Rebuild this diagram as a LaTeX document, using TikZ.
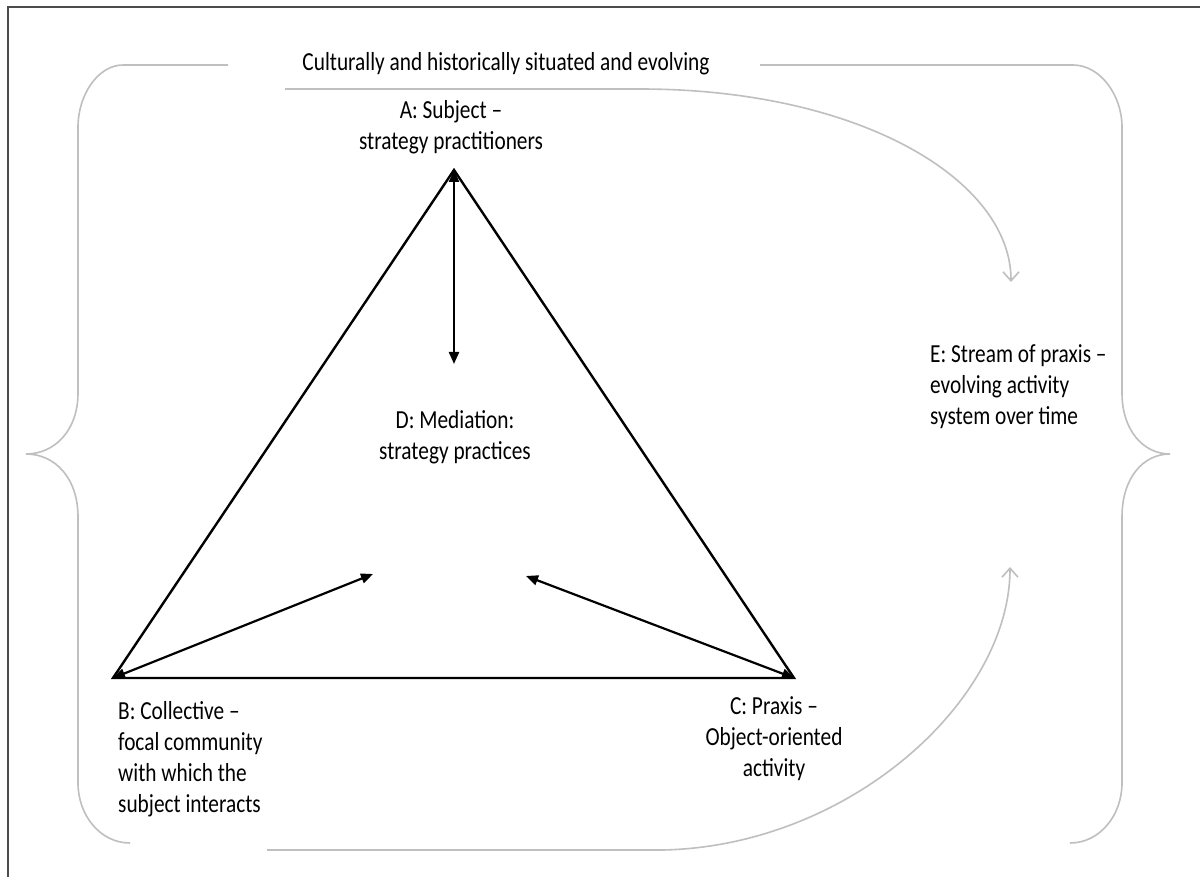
\documentclass[tikz,border=0pt]{standalone}
\usepackage{fontspec}
\setmainfont{Carlito}
\newfontfamily\labfont[FakeStretch=0.82]{Carlito}
\usetikzlibrary{arrows.meta}
\begin{document}
\begin{tikzpicture}[x=1pt,y=-1pt,
 tri/.style={line width=2.4pt, black, line join=miter},
 dbl/.style={line width=2.2pt, black, {Triangle[length=12pt,width=10pt]}-{Triangle[length=12pt,width=10pt]}},
 gr/.style={line width=1.6pt, color=black!25},
 garrow/.style={gr, -{Straight Barb[length=9pt,width=16pt]}},
 lbl/.style={font=\labfont\fontsize{26}{31}\selectfont, inner sep=0pt, text=black},
]
\useasboundingbox (0,0) rectangle (1200,877);
\fill[white] (0,0) rectangle (1200,877);
\draw[line width=2pt, black!70] (8,877) -- (8,7) -- (1200,7);

% labels
\node[lbl] (title) at (506,64) {Culturally and historically situated and evolving};
\node[lbl, align=center] (lA) at (451,127) {A: Subject –\\strategy practitioners};
\node[lbl, align=center] (lD) at (455,437) {D: Mediation:\\strategy practices};
\node[lbl, align=left, anchor=west] (lB) at (118,759) {B: Collective –\\focal community\\with which the\\subject interacts};
\node[lbl, align=center] (lC) at (774,739) {C: Praxis –\\Object-oriented\\activity};
\node[lbl, align=left, anchor=west] (lE) at (930,387) {E: Stream of praxis –\\evolving activity\\system over time};

% gray braces
\draw[gr] (228,65) -- (123,65) .. controls (98,65) and (78,95) .. (78,127)
  -- (78,393) .. controls (78,430) and (55,454) .. (26,454)
  .. controls (55,454) and (78,478) .. (78,517)
  -- (78,783) .. controls (78,815) and (100,843) .. (130,843);
\draw[gr] (760,65) -- (1073,65) .. controls (1100,65) and (1122,95) .. (1122,127)
  -- (1122,393) .. controls (1122,430) and (1143,454) .. (1170,454)
  .. controls (1143,454) and (1122,478) .. (1122,517)
  -- (1122,783) .. controls (1122,815) and (1100,843) .. (1070,843);

% gray curved arrows
\coordinate (t0) at (285,89);
\coordinate (t1) at (640,89);
\coordinate (tE) at (1011,282);
\draw[garrow] (t0) -- (t1) .. controls (860,89) and (1011,180) .. (tE);
\coordinate (b0) at (267,850);
\coordinate (b1) at (663,850);
\coordinate (bE) at (1010,567);
\draw[garrow] (b0) -- (b1) .. controls (850,846) and (1010,700) .. (bE);

% triangle
\coordinate (A) at (454,170);
\coordinate (B) at (113,678);
\coordinate (C) at (794,678);
\coordinate (Dt) at (454,364);
\coordinate (Dl) at (373,574);
\coordinate (Dr) at (526,576);
\draw[tri] (A) -- (B) -- (C) -- cycle;
\draw[dbl] (A) -- (Dt);
\draw[dbl] (B) -- (Dl);
\draw[dbl] (C) -- (Dr);
\end{tikzpicture}
\end{document}
